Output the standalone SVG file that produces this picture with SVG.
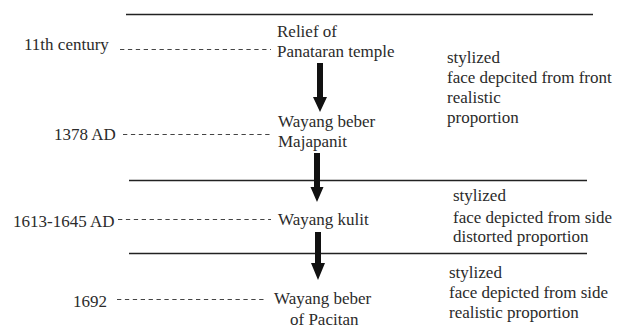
<svg xmlns="http://www.w3.org/2000/svg" width="630" height="327" viewBox="0 0 630 327">
<style>
text{font-family:"Liberation Serif","Times New Roman",serif;font-size:17px;fill:#2b2b2b}
.sep{stroke:#222;stroke-width:1.4}
.dash{stroke:#444;stroke-width:1.1;stroke-dasharray:4.3 3.6}
.arr{fill:#111}
</style>
<rect width="630" height="327" fill="#fff"/>
<g id="separators">
<line class="sep" x1="126" y1="14.5" x2="593" y2="14.5"/>
<line class="sep" x1="129" y1="180.5" x2="587" y2="180.5"/>
<line class="sep" x1="129" y1="253.5" x2="587" y2="253.5"/>
</g>
<g id="connectors">
<line class="dash" x1="120" y1="49.5" x2="271" y2="49.5"/>
<line class="dash" x1="123" y1="134.5" x2="273" y2="134.5"/>
<line class="dash" x1="118" y1="219.5" x2="271" y2="219.5"/>
<line class="dash" x1="117" y1="299.5" x2="266" y2="299.5"/>
<polygon class="arr" points="317,63 323,63 323,97 327,97 320,112 313,97 317,97"/>
<polygon class="arr" points="314,153 320,153 320,187 323.5,187 317,202 310.5,187 314,187"/>
<polygon class="arr" points="315,232 321,232 321,263 325,263 318,280 311,263 315,263"/>
</g>
<g id="date-11th">
<text x="24" y="50">11th century</text>
</g>
<g id="date-1378">
<text x="54" y="140">1378 AD</text>
</g>
<g id="date-1613">
<text x="13" y="227">1613-1645 AD</text>
</g>
<g id="date-1692">
<text x="73" y="307">1692</text>
</g>
<g id="node-relief">
<text x="277" y="36.7">Relief of</text>
<text x="277" y="56.7">Panataran temple</text>
</g>
<g id="node-majapanit">
<text x="278" y="126.7">Wayang beber</text>
<text x="278" y="146.7">Majapanit</text>
</g>
<g id="node-kulit">
<text x="278" y="225">Wayang kulit</text>
</g>
<g id="node-pacitan">
<text x="274" y="304">Wayang beber</text>
<text x="290" y="325">of Pacitan</text>
</g>
<g id="desc-1">
<text x="447" y="62.7">stylized</text>
<text x="447" y="83.3">face depcited from front</text>
<text x="447" y="103.3">realistic</text>
<text x="447" y="122.7">proportion</text>
</g>
<g id="desc-2">
<text x="453" y="201">stylized</text>
<text x="453" y="222.5">face depicted from side</text>
<text x="453" y="242">distorted proportion</text>
</g>
<g id="desc-3">
<text x="449" y="278">stylized</text>
<text x="449" y="298">face depicted from side</text>
<text x="449" y="318">realistic proportion</text>
</g>
</svg>
